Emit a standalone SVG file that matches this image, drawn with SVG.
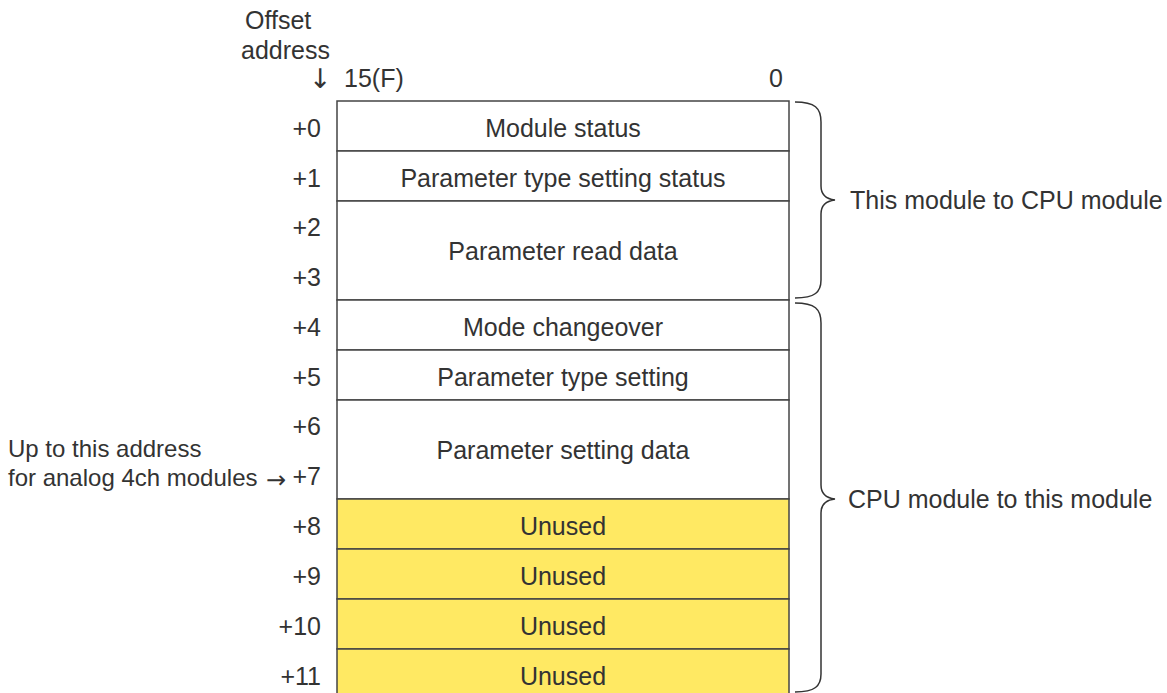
<svg xmlns="http://www.w3.org/2000/svg" width="1167" height="693" viewBox="0 0 1167 693">
<style>
text{font-family:"Liberation Sans",Arial,Helvetica,sans-serif;font-size:25px;fill:#333333}
.c{text-anchor:middle}
.r{text-anchor:end}
.ar{font-family:"DejaVu Sans",sans-serif}
.cell{stroke:#444444;stroke-width:1.5;fill:#ffffff}
.un{fill:#ffe963}
.brace{fill:none;stroke:#333333;stroke-width:1.5}
</style>
<rect width="1167" height="693" fill="#ffffff"/>
<g id="header">
<text x="245" y="29">Offset</text>
<text x="241" y="59">address</text>
<text class="ar" x="309" y="88" style="font-size:27px">↓</text>
<text x="344" y="87">15(F)</text>
<text class="r" x="783" y="87">0</text>
</g>
<g id="row0"><rect class="cell" x="337" y="101" width="452" height="50"/><text class="c" x="563" y="137">Module status</text><text class="r" x="321" y="137">+0</text></g>
<g id="row1"><rect class="cell" x="337" y="151" width="452" height="50"/><text class="c" x="563" y="187">Parameter type setting status</text><text class="r" x="321" y="187">+1</text></g>
<g id="row2"><rect class="cell" x="337" y="201" width="452" height="99"/><text class="c" x="563" y="260">Parameter read data</text><text class="r" x="321" y="236">+2</text><text class="r" x="321" y="286">+3</text></g>
<g id="row4"><rect class="cell" x="337" y="300" width="452" height="50"/><text class="c" x="563" y="336">Mode changeover</text><text class="r" x="321" y="336">+4</text></g>
<g id="row5"><rect class="cell" x="337" y="350" width="452" height="50"/><text class="c" x="563" y="386">Parameter type setting</text><text class="r" x="321" y="386">+5</text></g>
<g id="row6"><rect class="cell" x="337" y="400" width="452" height="99"/><text class="c" x="563" y="459">Parameter setting data</text><text class="r" x="321" y="435">+6</text><text class="r" x="321" y="485">+7</text></g>
<g id="row8"><rect class="cell un" x="337" y="499" width="452" height="50"/><text class="c" x="563" y="535">Unused</text><text class="r" x="321" y="535">+8</text></g>
<g id="row9"><rect class="cell un" x="337" y="549" width="452" height="50"/><text class="c" x="563" y="585">Unused</text><text class="r" x="321" y="585">+9</text></g>
<g id="row10"><rect class="cell un" x="337" y="599" width="452" height="50"/><text class="c" x="563" y="635">Unused</text><text class="r" x="321" y="635">+10</text></g>
<g id="row11"><rect class="cell un" x="337" y="649" width="452" height="52"/><text class="c" x="563" y="685">Unused</text><text class="r" x="321" y="685">+11</text></g>
<g id="note">
<text x="8" y="457" style="font-size:24px">Up to this address</text>
<text x="8" y="486" style="font-size:24px">for analog 4ch modules</text>
<text class="ar" x="266" y="488" style="font-size:24px">→</text>
</g>
<g id="connectors">
<path class="brace" d="M795,102 C815,102 821,108 821,122 L821,186 C821,194 826,199 835,200 C826,201 821,206 821,214 L821,280 C821,292 815,298 795,298"/>
<path class="brace" d="M795,303 C815,303 821,309 821,323 L821,485 C821,493 826,498 835,499 C826,500 821,505 821,513 L821,674 C821,686 815,692 795,692"/>
</g>
<g id="labels">
<text x="850" y="209">This module to CPU module</text>
<text x="848" y="508">CPU module to this module</text>
</g>
</svg>
